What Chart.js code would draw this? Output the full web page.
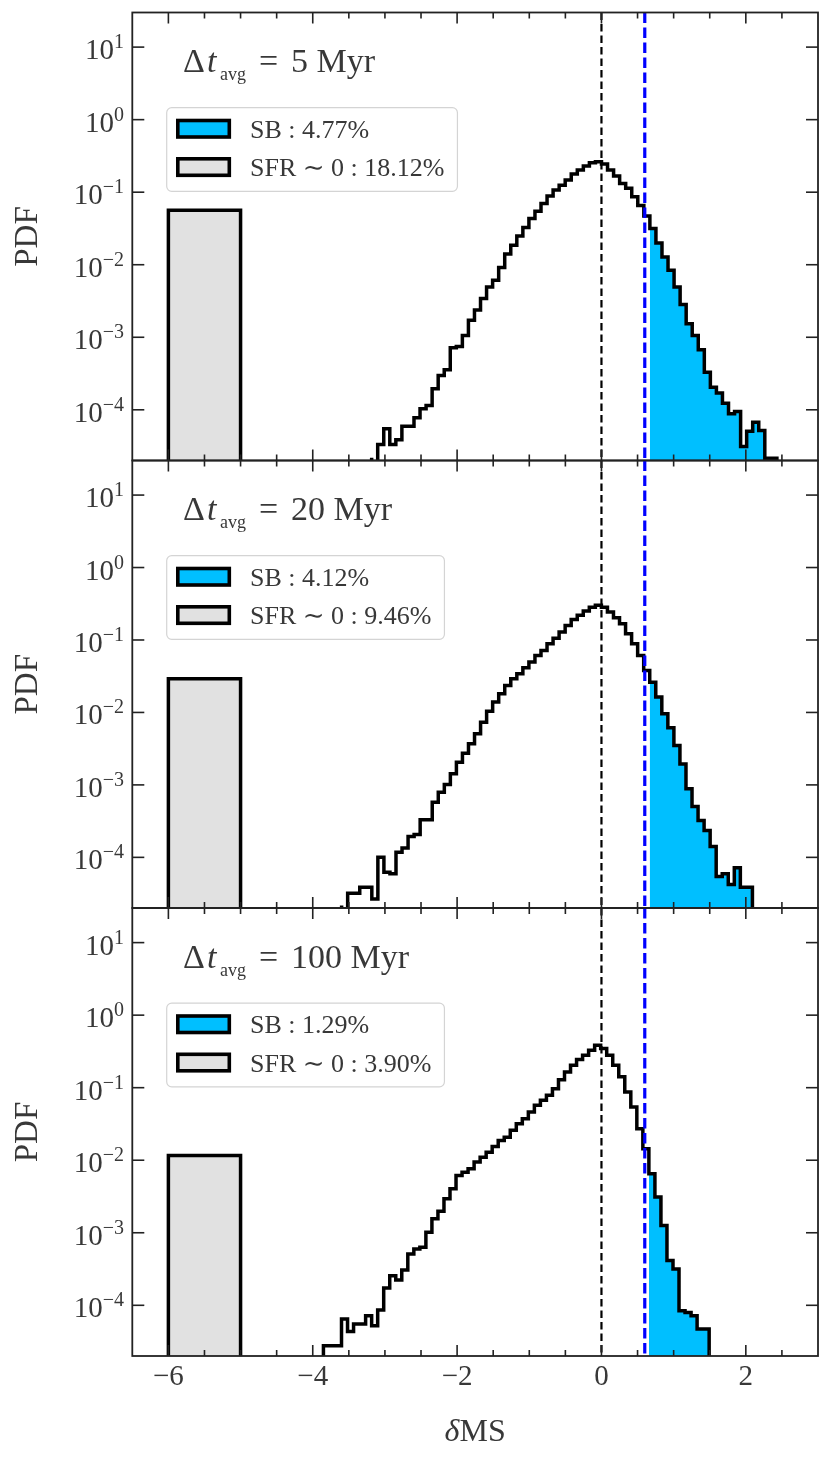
<!DOCTYPE html>
<html>
<head>
<meta charset="utf-8">
<title>δMS PDF</title>
<script src="https://cdn.jsdelivr.net/npm/chart.js@4.4.1/dist/chart.umd.min.js"></script>
<style>
  html, body { margin: 0; padding: 0; background: #fff; overflow: hidden; }
  #figure { position: relative; width: 831px; height: 1460px; }
  #figure canvas { position: absolute; left: 0; top: 0; }
</style>
</head>
<body>
<div id="figure">
  <canvas id="panel0" width="831" height="1460"></canvas>
  <canvas id="panel1" width="831" height="1460"></canvas>
  <canvas id="panel2" width="831" height="1460"></canvas>
</div>
<script>
// shared x axis
const xMajorTicks = [-6, -4, -2, 0, 2];
const xMajorLabels = ["−6", "−4", "−2", "0", "2"];
// log y axis, decades that get a label
const yDecades = [1, 0, -1, -2, -3, -4];

const avgTimes = ["5", "20", "100"];
const sbShares = ["4.77%", "4.12%", "1.29%"];
const quenchedShares = ["18.12%", "9.46%", "3.90%"];
const quenchedPdf = [0.0564, 0.0292, 0.0116];
const quenchedRange = [-6, -5];
const sbThreshold = 0.6;

// histogram bins of each panel: first edge, bin width, first starburst bin
const binStart = [-3.184, -3.600, -3.852];
const binWidth = [0.0838, 0.0837, 0.0835];
const sbFirstBin = [46, 51, 54];

const pdf5Myr = [
  2.19e-5, 0, 3.32e-5, 5.46e-5, 3.32e-5, 3.85e-5, 5.94e-5, 5.94e-5, 7.76e-5, 1.03e-4,
  1.15e-4, 1.95e-4, 2.98e-4, 3.56e-4, 7.18e-4, 7.48e-4, 1.06e-3, 1.71e-3, 2.37e-3, 3.41e-3,
  4.94e-3, 6.11e-3, 9.14e-3, 1.40e-2, 1.86e-2, 2.48e-2, 3.27e-2, 4.35e-2, 5.48e-2, 7.00e-2,
  8.83e-2, 0.107, 0.125, 0.147, 0.178, 0.202, 0.229, 0.255, 0.263, 0.244,
  0.202, 0.167, 0.132, 0.113, 8.63e-2, 6.53e-2, 4.68e-2, 3.16e-2, 2.00e-2, 1.28e-2,
  8.39e-3, 4.94e-3, 2.84e-3, 1.54e-3, 1.06e-3, 6.73e-4, 3.30e-4, 2.05e-4, 1.71e-4, 1.23e-4,
  8.81e-5, 9.48e-5, 3.11e-5, 5.06e-5, 6.75e-5, 5.18e-5, 2.14e-5
];
const pdf20Myr = [
  2.16e-5, 0, 3.19e-5, 3.19e-5, 3.86e-5, 3.86e-5, 2.67e-5, 1.00e-4, 6.22e-5, 5.92e-5,
  1.18e-4, 1.35e-4, 1.94e-4, 2.07e-4, 3.30e-4, 3.30e-4, 5.77e-4, 7.93e-4, 1.01e-3, 1.42e-3,
  2.06e-3, 2.74e-3, 3.69e-3, 5.08e-3, 7.35e-3, 1.04e-2, 1.39e-2, 1.81e-2, 2.36e-2, 2.92e-2,
  3.42e-2, 4.14e-2, 4.95e-2, 6.12e-2, 7.18e-2, 8.89e-2, 0.106, 0.129, 0.159, 0.191,
  0.219, 0.251, 0.284, 0.301, 0.284, 0.243, 0.203, 0.168, 0.122, 8.89e-2,
  6.12e-2, 3.80e-2, 2.62e-2, 1.63e-2, 9.59e-3, 6.15e-3, 3.50e-3, 1.95e-3, 8.83e-4, 5.04e-4,
  3.22e-4, 2.34e-4, 1.41e-4, 5.43e-5, 5.92e-5, 4.21e-5, 7.16e-5, 3.86e-5
];
const pdf100Myr = [
  2.12e-5, 2.77e-5, 2.77e-5, 2.77e-5, 6.46e-5, 4.37e-5, 5.51e-5, 5.51e-5, 7.18e-5, 5.22e-5,
  8.59e-5, 1.73e-4, 2.56e-4, 2.23e-4, 3.07e-4, 5.11e-4, 5.98e-4, 6.31e-4, 1.02e-3, 1.56e-3,
  1.98e-3, 2.94e-3, 4.04e-3, 6.17e-3, 6.85e-3, 7.62e-3, 9.42e-3, 1.10e-2, 1.29e-2, 1.55e-2,
  1.87e-2, 2.08e-2, 2.58e-2, 3.19e-2, 3.74e-2, 4.61e-2, 5.71e-2, 6.70e-2, 7.85e-2, 9.70e-2,
  0.129, 0.165, 0.204, 0.244, 0.281, 0.329, 0.385, 0.347, 0.281, 0.204,
  0.141, 8.73e-2, 5.42e-2, 2.72e-2, 1.44e-2, 6.52e-3, 3.10e-3, 1.26e-3, 4.13e-4, 3.17e-4,
  8.41e-5, 7.98e-5, 7.18e-5, 4.70e-5
];
const pdfs = [pdf5Myr, pdf20Myr, pdf100Myr];

const X_MIN = -6.5, X_MAX = 3;
const Y_MIN = 2e-5, Y_MAX = 30;
const FLOOR = 1e-9; // empty bins drop out of the plot, like a zero on a log axis
const FONT = '"Liberation Serif", "DejaVu Serif", serif';
const INK = "#383838";
const AXIS_INK = "#222";

const panelTops = [12.5, 460.5, 908];
const panelBottoms = [460.5, 908, 1356];
const areaLeft = 132.3, areaRight = 818;

// outline of a step histogram starting at bin `first`
function stepOutline(start, width, values, first) {
  const pts = [{ x: start + first * width, y: FLOOR }];
  for (let k = first; k < values.length; k++) {
    pts.push({ x: start + k * width, y: values[k] > 0 ? values[k] : FLOOR });
  }
  const end = start + values.length * width;
  const last = values[values.length - 1];
  pts.push({ x: end, y: last > 0 ? last : FLOOR });
  pts.push({ x: end, y: FLOOR });
  return pts;
}

function seg(ctx, x1, y1, x2, y2) {
  ctx.beginPath();
  ctx.moveTo(x1, y1);
  ctx.lineTo(x2, y2);
  ctx.stroke();
}

function roundedBox(ctx, x, y, w, h, r) {
  ctx.beginPath();
  ctx.moveTo(x + r, y);
  ctx.arcTo(x + w, y, x + w, y + h, r);
  ctx.arcTo(x + w, y + h, x, y + h, r);
  ctx.arcTo(x, y + h, x, y, r);
  ctx.arcTo(x, y, x + w, y, r);
  ctx.closePath();
}

function drawTitle(ctx, y, avg) {
  ctx.fillStyle = INK;
  ctx.textAlign = "left";
  ctx.font = `34px ${FONT}`;
  ctx.fillText("Δ", 183, y);
  ctx.font = `italic 34px ${FONT}`;
  ctx.fillText("t", 207, y);
  ctx.font = `18px ${FONT}`;
  ctx.fillText("avg", 220, y + 8);
  ctx.font = `34px ${FONT}`;
  ctx.fillText("=", 259, y);
  ctx.fillText(avg + " Myr", 291, y);
}

function drawLegend(ctx, top, i) {
  const rows = [
    { fill: "#00bfff", text: "SB : " + sbShares[i] },
    { fill: "#e1e1e1", text: "SFR ∼ 0 : " + quenchedShares[i] }
  ];
  ctx.font = `26px ${FONT}`;
  let textW = 0;
  rows.forEach((r) => { textW = Math.max(textW, ctx.measureText(r.text).width); });
  const boxX = 166.7, boxY = top + 95.2, boxH = 83.6;
  const boxW = 250 + textW + 13 - boxX;
  roundedBox(ctx, boxX, boxY, boxW, boxH, 5);
  ctx.fillStyle = "rgba(255,255,255,0.8)";
  ctx.fill();
  ctx.lineWidth = 1.2;
  ctx.strokeStyle = "#d4d4d4";
  ctx.stroke();
  rows.forEach((r, k) => {
    const py = top + 106.2 + k * 38.3;
    ctx.fillStyle = r.fill;
    ctx.fillRect(177.8, py + 1.8, 51.5, 16.5);
    ctx.lineWidth = 3.6;
    ctx.strokeStyle = "#000";
    ctx.strokeRect(177.8, py + 1.8, 51.5, 16.5);
    ctx.fillStyle = INK;
    ctx.textAlign = "left";
    ctx.fillText(r.text, 250, py + 19);
  });
}

function decorations(i) {
  return {
    id: "decor" + i,
    afterDatasetsDraw(chart) {
      const ctx = chart.ctx;
      const { left, right, top, bottom } = chart.chartArea;
      const xs = chart.scales.x;
      const ys = chart.scales.y;
      ctx.save();

      // main sequence and starburst threshold
      ctx.lineWidth = 2.2;
      ctx.strokeStyle = "#000";
      ctx.setLineDash([7.5, 4]);
      let px = xs.getPixelForValue(0);
      seg(ctx, px, top, px, bottom);
      ctx.lineWidth = 3.2;
      ctx.strokeStyle = "#0000ff";
      ctx.setLineDash([10.5, 4.5]);
      px = xs.getPixelForValue(sbThreshold);
      seg(ctx, px, top, px, bottom);
      ctx.setLineDash([]);

      // frame and inward ticks
      ctx.strokeStyle = AXIS_INK;
      ctx.lineWidth = 1.8;
      ctx.strokeRect(left, top, right - left, bottom - top);
      ctx.lineWidth = 1.6;
      for (let v = X_MIN + 0.5; v < X_MAX; v += 0.5) {
        const len = xMajorTicks.includes(v) ? 11 : 6;
        const p = xs.getPixelForValue(v);
        seg(ctx, p, bottom, p, bottom - len);
        seg(ctx, p, top, p, top + len);
      }
      yDecades.forEach((e) => {
        const p = ys.getPixelForValue(Math.pow(10, e));
        seg(ctx, left, p, left + 12, p);
        seg(ctx, right, p, right - 12, p);
      });

      // y tick labels as 10^e
      ctx.fillStyle = INK;
      ctx.textAlign = "left";
      ctx.textBaseline = "alphabetic";
      yDecades.forEach((e) => {
        const p = ys.getPixelForValue(Math.pow(10, e));
        const sup = (e < 0 ? "−" : "") + Math.abs(e);
        ctx.font = `20px ${FONT}`;
        const wSup = ctx.measureText(sup).width;
        ctx.font = `29px ${FONT}`;
        const wBase = ctx.measureText("10").width;
        const xr = 124;
        ctx.fillText("10", xr - wSup - wBase, p + 12);
        ctx.font = `20px ${FONT}`;
        ctx.fillText(sup, xr - wSup, p + 1);
      });

      // y axis title
      ctx.save();
      ctx.translate(37, (top + bottom) / 2);
      ctx.rotate(-Math.PI / 2);
      ctx.textAlign = "center";
      ctx.font = `33px ${FONT}`;
      ctx.fillText("PDF", 0, 0);
      ctx.restore();

      drawTitle(ctx, top + 59.5, avgTimes[i]);
      drawLegend(ctx, top, i);

      if (i === 2) {
        ctx.fillStyle = INK;
        ctx.textAlign = "center";
        ctx.font = `29px ${FONT}`;
        xMajorTicks.forEach((v, k) => {
          ctx.fillText(xMajorLabels[k], xs.getPixelForValue(v), 1385);
        });
        const cx = (left + right) / 2;
        ctx.font = `italic 32px ${FONT}`;
        const wd = ctx.measureText("δ").width;
        ctx.font = `32px ${FONT}`;
        const wm = ctx.measureText("MS").width;
        const x0 = cx - (wd + wm) / 2;
        ctx.textAlign = "left";
        ctx.font = `italic 32px ${FONT}`;
        ctx.fillText("δ", x0, 1440.7);
        ctx.font = `32px ${FONT}`;
        ctx.fillText("MS", x0 + wd, 1440.7);
      }
      ctx.restore();
    }
  };
}

pdfs.forEach((values, i) => {
  const q = quenchedPdf[i];
  new Chart(document.getElementById("panel" + i), {
    type: "line",
    data: {
      datasets: [
        {
          label: "all",
          data: stepOutline(binStart[i], binWidth[i], values, 0),
          stepped: "after",
          borderColor: "#000",
          borderWidth: 3.5,
          borderJoinStyle: "miter",
          fill: false,
          clip: 0,
        },
        {
          label: "SB",
          data: stepOutline(binStart[i], binWidth[i], values, sbFirstBin[i]),
          stepped: "after",
          borderWidth: 0,
          borderColor: "rgba(0,0,0,0)",
          backgroundColor: "#00bfff",
          fill: { value: Y_MIN },
          clip: 0,
        },
        {
          label: "SFR ~ 0",
          data: [
            { x: quenchedRange[0], y: FLOOR },
            { x: quenchedRange[0], y: q },
            { x: quenchedRange[1], y: q },
            { x: quenchedRange[1], y: FLOOR },
          ],
          borderColor: "#000",
          borderWidth: 3.5,
          borderJoinStyle: "miter",
          backgroundColor: "#e1e1e1",
          fill: { value: Y_MIN },
          clip: 0,
        },
      ],
    },
    options: {
      responsive: false,
      animation: false,
      events: [],
      layout: {
        padding: {
          left: areaLeft,
          right: 831 - areaRight,
          top: panelTops[i],
          bottom: 1460 - panelBottoms[i],
        },
      },
      scales: {
        x: { type: "linear", min: X_MIN, max: X_MAX, display: false },
        y: { type: "logarithmic", min: Y_MIN, max: Y_MAX, display: false },
      },
      elements: { point: { radius: 0 }, line: { tension: 0 } },
      plugins: { legend: { display: false }, tooltip: { enabled: false } },
    },
    plugins: [decorations(i)],
  });
});
</script>
</body>
</html>
